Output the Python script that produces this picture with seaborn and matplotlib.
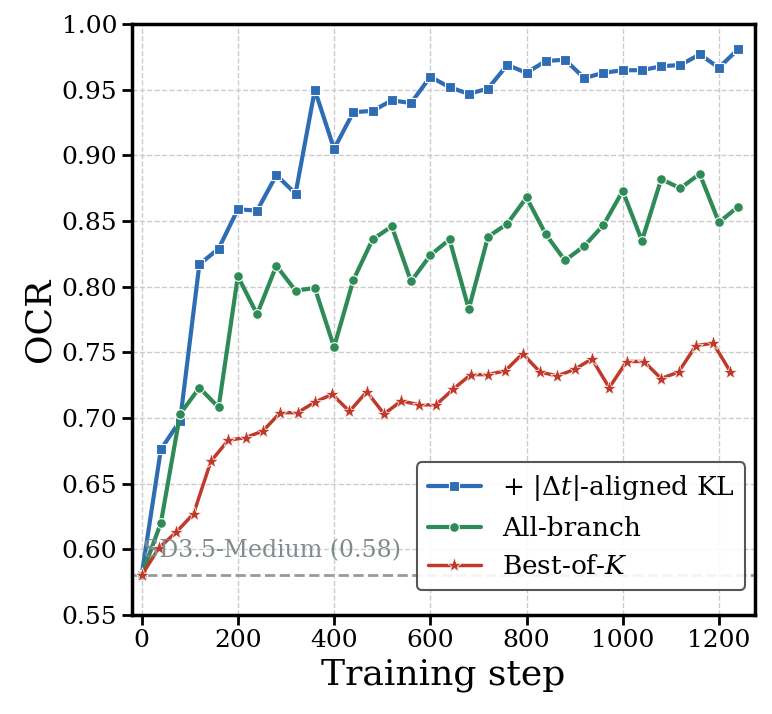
import numpy as np
import pandas as pd
import matplotlib
matplotlib.use("Agg")
import matplotlib.pyplot as plt
import seaborn as sns

# steps
steps_main = [0, 40, 80, 120, 160, 200, 240, 280, 320, 360, 400, 440, 480, 520, 560, 600,
              640, 680, 720, 760, 800, 840, 880, 920, 960, 1000, 1040, 1080, 1120, 1160, 1200, 1240]
steps_bok = [0, 36, 72, 108, 144, 180, 216, 252, 288, 324, 360, 396, 432, 468, 504, 540, 576, 612,
             648, 684, 720, 756, 792, 828, 864, 900, 936, 972, 1008, 1044, 1080, 1116, 1152, 1188, 1224]

ocr_kl = [0.580, 0.676, 0.698, 0.817, 0.829, 0.859, 0.858, 0.885, 0.871, 0.950, 0.905, 0.933, 0.934, 0.942, 0.940, 0.960,
          0.952, 0.947, 0.951, 0.969, 0.963, 0.972, 0.973, 0.959, 0.963, 0.965, 0.965, 0.968, 0.969, 0.977, 0.967, 0.981]
ocr_all = [0.580, 0.620, 0.703, 0.723, 0.708, 0.808, 0.779, 0.816, 0.797, 0.799, 0.754, 0.805, 0.836, 0.846, 0.804, 0.824,
           0.836, 0.783, 0.838, 0.848, 0.868, 0.840, 0.820, 0.831, 0.847, 0.873, 0.835, 0.882, 0.875, 0.886, 0.849, 0.861]
ocr_bok = [0.580, 0.601, 0.613, 0.627, 0.667, 0.683, 0.685, 0.690, 0.704, 0.704, 0.712, 0.718, 0.705, 0.720, 0.703, 0.713, 0.710, 0.710,
           0.722, 0.733, 0.733, 0.736, 0.749, 0.735, 0.732, 0.737, 0.745, 0.723, 0.743, 0.743, 0.730, 0.735, 0.755, 0.757, 0.735]

baseline = 0.58
labels = [r"+ $|\Delta t|$-aligned KL", "All-branch", r"Best-of-$K$"]
colors = ["#2E6DB4", "#2E8B57", "#C0392B"]

sns.set_theme(style="ticks")
plt.rcParams["font.family"] = ["DejaVu Serif"]
plt.rcParams["mathtext.fontset"] = "dejavuserif"
plt.rcParams["text.color"] = "black"
plt.rcParams["axes.labelcolor"] = "black"
plt.rcParams["xtick.color"] = "black"
plt.rcParams["ytick.color"] = "black"

fig = plt.figure(figsize=(7.72, 7.14), dpi=100)
ax = fig.add_axes([0.171, 0.139, 0.807, 0.827])

ax.grid(True, linestyle="--", color="#cccccc", linewidth=1.0)
ax.set_axisbelow(True)

ax.axhline(baseline, color="#999999", linestyle="--", linewidth=2, zorder=1)
ax.text(2, baseline + 0.01, "SD3.5-Medium (0.58)", color="#7f8c8d", fontsize=17,
        va="bottom", ha="left")

df_kl = pd.DataFrame({"step": steps_main, "ocr": ocr_kl})
df_all = pd.DataFrame({"step": steps_main, "ocr": ocr_all})
df_bok = pd.DataFrame({"step": steps_bok, "ocr": ocr_bok})

sns.lineplot(data=df_kl, x="step", y="ocr", ax=ax, color=colors[0], linewidth=3,
             marker="s", markersize=7, markeredgecolor="white", markeredgewidth=0.8, label=labels[0])
sns.lineplot(data=df_all, x="step", y="ocr", ax=ax, color=colors[1], linewidth=3,
             marker="o", markersize=7, markeredgecolor="white", markeredgewidth=0.8, label=labels[1])
sns.lineplot(data=df_bok, x="step", y="ocr", ax=ax, color=colors[2], linewidth=2.5,
             marker="*", markersize=11, markeredgecolor="white", markeredgewidth=0.5, label=labels[2])

ax.set_xlim(-20, 1275)
ax.set_ylim(0.55, 1.0)
ax.set_yticks(np.arange(0.55, 1.001, 0.05))
ax.set_xlabel("Training step", fontsize=26)
ax.set_ylabel("OCR", fontsize=26)
ax.tick_params(axis="both", labelsize=18, width=2, length=7, color="black")
for s in ax.spines.values():
    s.set_linewidth(2.5)
    s.set_color("black")

leg = ax.legend(loc="lower right", bbox_to_anchor=(0.984, 0.042), borderaxespad=0,
                fontsize=19, frameon=True, fancybox=True,
                edgecolor="#444444", framealpha=0.9, handlelength=2.0)
leg.get_frame().set_linewidth(1.5)

fig.savefig("out.png", dpi=100)
